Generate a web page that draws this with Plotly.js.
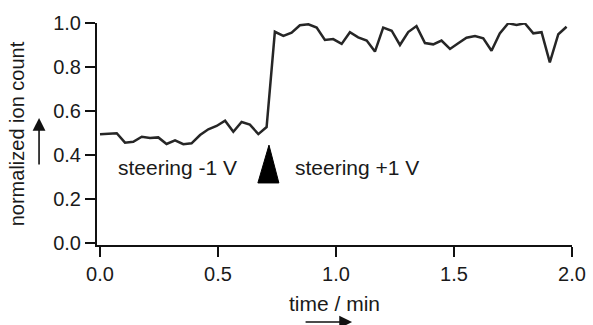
<!DOCTYPE html>
<html>
<head>
<meta charset="utf-8">
<script src="https://cdn.plot.ly/plotly-3.0.1.min.js"></script>
<style>html,body{margin:0;padding:0;background:#fff;}#chart{width:593px;height:325px;}</style>
</head>
<body>
<div id="chart"></div>
<script>
// time in minutes
const timeMin = [0.000, 0.035, 0.071, 0.106, 0.141, 0.177, 0.212, 0.247, 0.282, 0.318,
  0.353, 0.388, 0.424, 0.459, 0.494, 0.530, 0.565, 0.600, 0.635, 0.671,
  0.706, 0.741, 0.777, 0.812, 0.847, 0.883, 0.918, 0.953, 0.988, 1.024,
  1.059, 1.094, 1.130, 1.165, 1.200, 1.236, 1.271, 1.306, 1.341, 1.377,
  1.412, 1.447, 1.483, 1.518, 1.553, 1.589, 1.624, 1.659, 1.694, 1.730,
  1.765, 1.800, 1.836, 1.871, 1.906, 1.942, 1.977];
// normalized ion count
const ionCount = [0.494, 0.497, 0.499, 0.456, 0.460, 0.483, 0.477, 0.480, 0.450, 0.467,
  0.449, 0.453, 0.491, 0.517, 0.532, 0.556, 0.506, 0.550, 0.538, 0.495,
  0.527, 0.960, 0.941, 0.956, 0.990, 0.994, 0.979, 0.923, 0.927, 0.905,
  0.958, 0.935, 0.920, 0.870, 0.979, 0.965, 0.900, 0.959, 0.986, 0.909,
  0.903, 0.920, 0.882, 0.908, 0.933, 0.941, 0.930, 0.874, 0.953, 0.999,
  0.991, 0.999, 0.953, 0.958, 0.821, 0.949, 0.983];
const xTicks = [0, 0.5, 1.0, 1.5, 2.0];
const xTickLabels = ["0.0", "0.5", "1.0", "1.5", "2.0"];
const yTicks = [0, 0.2, 0.4, 0.6, 0.8, 1.0];
const yTickLabels = ["0.0", "0.2", "0.4", "0.6", "0.8", "1.0"];
const labelLeft = "steering -1 V";
const labelRight = "steering +1 V";
const switchTime = 0.716;

const FONT = "Liberation Sans, Arial, sans-serif";
const TXT = "#1a1a1a";

const trace = {
  x: timeMin, y: ionCount, type: "scatter", mode: "lines",
  line: {color: "#262626", width: 2.5}, hoverinfo: "skip"
};

const layout = {
  width: 593, height: 325,
  margin: {l: 97, r: 21, t: 23, b: 80},
  paper_bgcolor: "#fff", plot_bgcolor: "#fff",
  showlegend: false,
  font: {family: FONT, size: 20, color: TXT},
  xaxis: {
    range: [-0.0127, 2.0], tickvals: xTicks, ticktext: xTickLabels,
    showgrid: false, zeroline: false, showline: true, linecolor: "#111", linewidth: 2,
    ticks: "outside", ticklen: 10, tickwidth: 2, tickcolor: "#111",
    tickfont: {family: FONT, size: 20, color: TXT},
    title: {text: "time / min", font: {family: FONT, size: 21, color: TXT}, standoff: 12},
    fixedrange: true
  },
  yaxis: {
    range: [-0.009, 1.0], tickvals: yTicks, ticktext: yTickLabels,
    showgrid: false, zeroline: false, showline: true, linecolor: "#111", linewidth: 2,
    ticks: "outside", ticklen: 10, tickwidth: 2, tickcolor: "#111",
    tickfont: {family: FONT, size: 20, color: TXT},
    title: {text: "normalized ion count", font: {family: FONT, size: 20, color: TXT}, standoff: 23},
    fixedrange: true
  },
  shapes: [{
    type: "path", xref: "x", yref: "y",
    path: "M " + (switchTime - 0.047) + " 0.273 L " + switchTime + " 0.445 L " + (switchTime + 0.042) + " 0.273 Z",
    fillcolor: "#000", line: {color: "#000", width: 1}
  }],
  annotations: [
    {x: 0.328, y: 0.341, xref: "x", yref: "y", text: labelLeft, showarrow: false,
     font: {family: FONT, size: 21, color: TXT}},
    {x: 1.087, y: 0.341, xref: "x", yref: "y", text: labelRight, showarrow: false,
     font: {family: FONT, size: 21, color: TXT}},
    {x: -0.122, y: 0.572, xref: "paper", yref: "paper", text: "", showarrow: true,
     ax: 0, ay: 48, arrowhead: 2, arrowsize: 1.6, arrowwidth: 1.6, arrowcolor: "#111"},
    {x: 0.537, y: -0.347, xref: "paper", yref: "paper", text: "", showarrow: true,
     ax: -48, ay: 0, arrowhead: 2, arrowsize: 1.6, arrowwidth: 1.6, arrowcolor: "#111"}
  ]
};

Plotly.newPlot("chart", [trace], layout, {displayModeBar: false, staticPlot: true});
</script>
</body>
</html>
